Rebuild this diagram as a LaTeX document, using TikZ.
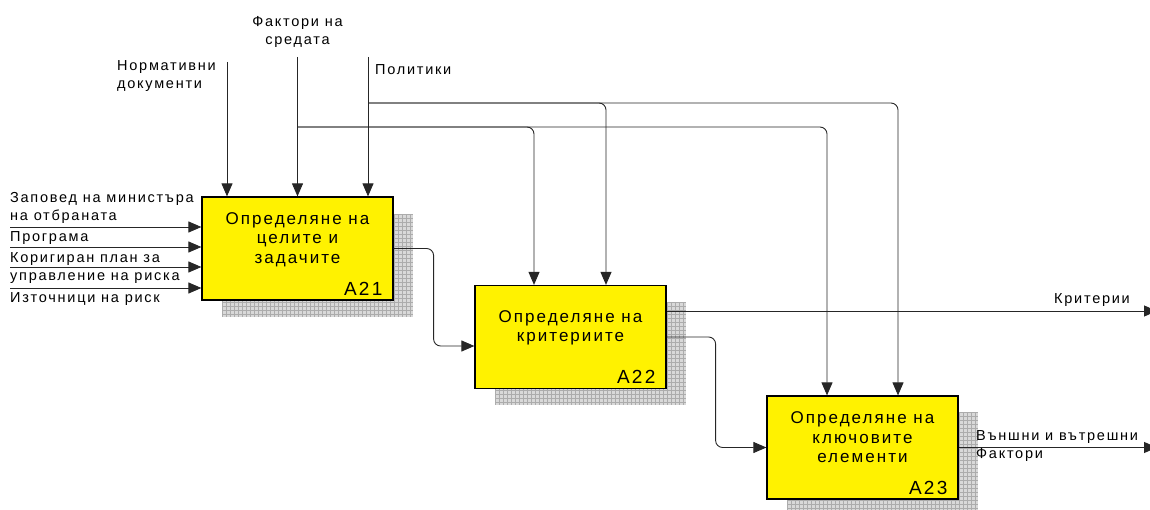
\documentclass[tikz,border=0pt]{standalone}
\usepackage{fontspec}
\setmainfont{Liberation Sans}[LetterSpace=12]
\usetikzlibrary{arrows.meta,patterns,calc}
\begin{document}
\begin{tikzpicture}[x=1pt,y=-1pt,
  box/.style={draw=black,line width=1.2pt,fill=yellow,minimum width=191pt,minimum height=103pt,inner sep=0pt},
  boxtext/.style={anchor=center,align=center,inner sep=0pt,font=\fontsize{17}{19.5}\selectfont},
  idlab/.style={anchor=south east,inner sep=0pt,font=\fontsize{19}{20}\selectfont},
  lab/.style={inner sep=0pt,align=left,font=\fontsize{14.5}{18}\selectfont},
  conn/.style={draw=black!85,line width=0.9pt},
  arr/.style={conn,-{Triangle[length=13pt,width=11pt]}}]
\useasboundingbox (0,0) rectangle (1150,510);
% shadows
\foreach \x/\y in {222/214, 495/302, 787/412}{
  \fill[gray!30] (\x,\y) rectangle ++(191,103);
  \begin{scope}
    \clip (\x,\y) rectangle ++(191,103);
    \foreach \i in {0,4,...,192} \draw[gray!65,line width=0.5pt] (\x+\i,\y) -- ++(0,103);
    \foreach \j in {0,4,...,104} \draw[gray!65,line width=0.5pt] (\x,\y+\j) -- ++(191,0);
  \end{scope}
}
% boxes
\node[box] (A21) at (297.5,248.5) {};
\node[box] (A22) at (570.5,337) {};
\node[box] (A23) at (862.5,447.5) {};
\node[boxtext] (t21) at ($(A21.center)+(0,-9)$) {Определяне на\\целите и\\задачите};
\node[boxtext] (t22) at ($(A22.center)+(0,-9)$) {Определяне на\\критериите};
\node[boxtext] (t23) at ($(A23.center)+(0,-10)$) {Определяне на\\ключовите\\елементи};
\node[idlab] (n21) at ($(A21.south east)+(-11,-5)$) {A21};
\node[idlab] (n22) at ($(A22.south east)+(-11,-5)$) {A22};
\node[idlab] (n23) at ($(A23.south east)+(-11,-5)$) {A23};
% inputs
\coordinate (i1) at (10,227);
\coordinate (i2) at (10,247);
\coordinate (i3) at (10,267);
\coordinate (i4) at (10,288);
\foreach \c in {i1,i2,i3,i4} \draw[arr] (\c) -- (\c -| A21.west);
\node[lab,anchor=west] (l1) at (10,208) {Заповед на министъра\\на отбраната};
\node[lab,anchor=west] (l2) at (10,238) {Програма};
\node[lab,anchor=west] (l3) at (10,268) {Коригиран план за\\управление на риска};
\node[lab,anchor=west] (l4) at (10,299) {Източници на риск};
% controls
\coordinate (c1) at (227,62);
\coordinate (c2) at (297.5,57);
\coordinate (c3) at (368,57);
\foreach \c in {c1,c2,c3} \draw[arr] (\c) -- (\c |- A21.north);
\node[lab,anchor=west] (lc1) at (117,76) {Нормативни\\документи};
\node[lab,align=center] (lc2) at (297.5,32) {Фактори на\\средата};
\node[lab,anchor=west] (lc3) at (375,70) {Политики};
% branches
\coordinate (bF) at (297.5,127);
\coordinate (bP) at (368,103);
\draw[arr,rounded corners=7pt] (bF) -| ($(A22.north)+(-36.5,0)$);
\draw[arr,rounded corners=7pt] (bF) -| ($(A23.north)+(-35.5,0)$);
\draw[arr,rounded corners=7pt] (bP) -| ($(A22.north)+(35.5,0)$);
\draw[arr,rounded corners=7pt] (bP) -| ($(A23.north)+(35.5,0)$);
% A21 -> A22
\draw[arr,rounded corners=7pt] (A21.east) -- ++(40,0) |- ($(A22.west)+(0,9)$);
% A22 outputs
\coordinate (oK) at (1157,311);
\draw[arr] ($(A22.east)+(0,-26)$) -- (oK);
\node[lab,anchor=east] (lK) at (1130,300) {Критерии};
\draw[arr,rounded corners=7pt] (A22.east) -- ++(49,0) |- (A23.west);
% A23 output
\coordinate (oV) at (1157,447.5);
\draw[arr] (A23.east) -- (oV);
\node[lab,anchor=west] (lV) at (976,446) {Външни и вътрешни\\Фактори};
\end{tikzpicture}
\end{document}
